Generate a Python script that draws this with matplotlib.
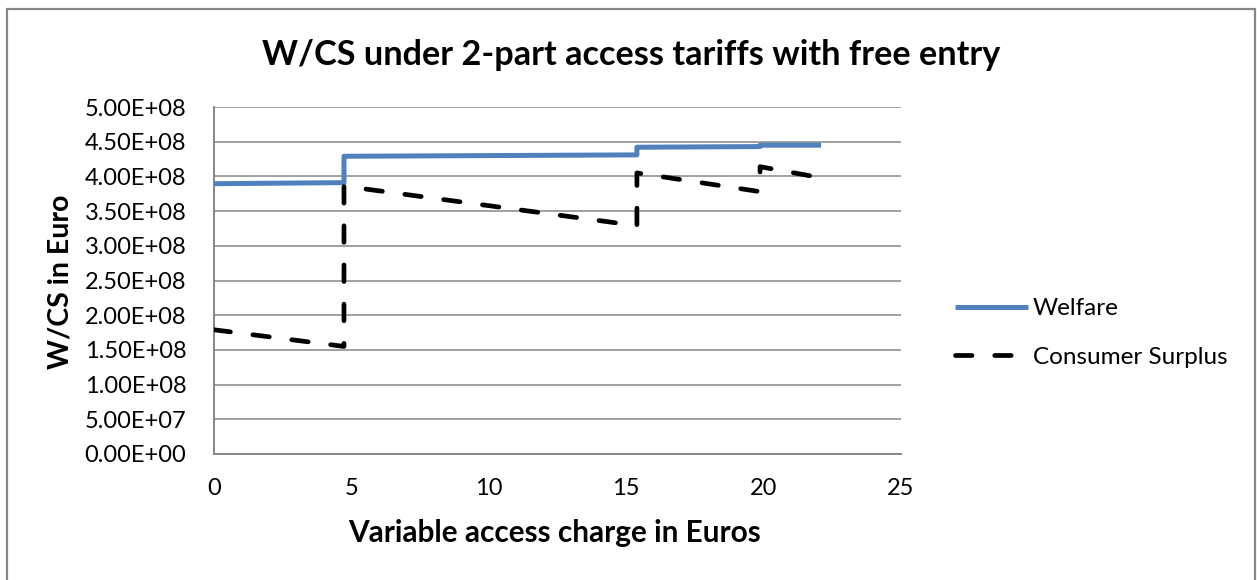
import matplotlib.pyplot as plt
from matplotlib.patches import Rectangle
from matplotlib.ticker import FuncFormatter, MultipleLocator

plt.rcParams['font.family'] = ['Lato', 'DejaVu Sans']

# Variable access charge (Euro) at each breakpoint of the step curves
access_charge = [0.0, 4.73, 4.73, 15.39, 15.39, 19.87, 19.87, 22.09]
welfare = [3.895e8, 3.91e8, 4.29e8, 4.31e8, 4.42e8, 4.43e8, 4.45e8, 4.45e8]
consumer_surplus = [1.79e8, 1.55e8, 3.86e8, 3.29e8, 4.05e8, 3.78e8, 4.14e8, 3.98e8]

GRID = "#868686"
BLUE = "#4F81BD"

fig = plt.figure(figsize=(12.57, 5.8), dpi=100)
ax = fig.add_axes([214 / 1257, 126 / 580, 687 / 1257, 347 / 580])

# chart border (open at the bottom)
fig.patches.append(Rectangle((7 / 1257, -0.05), 1248 / 1257, 1.05 - 9 / 580,
                             transform=fig.transFigure, fill=False,
                             edgecolor=GRID, linewidth=1.6, clip_on=False))

ax.plot(access_charge, welfare, color=BLUE, linewidth=3.6,
        solid_capstyle="butt", label="Welfare", zorder=3)
ax.plot(access_charge, consumer_surplus, color="black", linewidth=3.4,
        dashes=(3.5, 4.8), dash_capstyle="round", label="Consumer Surplus",
        zorder=3)

ax.set_xlim(0, 25)
ax.set_ylim(0, 5e8)
ax.xaxis.set_major_locator(MultipleLocator(5))
ax.yaxis.set_major_locator(MultipleLocator(5e7))
ax.yaxis.set_major_formatter(FuncFormatter(lambda v, _: f"{v:.2E}"))
ax.grid(axis="y", color=GRID, linewidth=1.1)
ax.set_axisbelow(True)
for side in ("top", "right"):
    ax.spines[side].set_visible(False)
for side in ("left", "bottom"):
    ax.spines[side].set_color(GRID)
    ax.spines[side].set_linewidth(1.4)
ax.tick_params(axis="both", length=0, labelsize=17)
ax.tick_params(axis="y", pad=20)
ax.tick_params(axis="x", pad=17)

fig.text(631 / 1257, 1 - 55 / 580, "W/CS under 2-part access tariffs with free entry",
         ha="center", va="center", fontsize=24.7, fontweight="bold")
fig.text(555 / 1257, 1 - 533 / 580, "Variable access charge in Euros",
         ha="center", va="center", fontsize=21.4, fontweight="bold")
fig.text(61 / 1257, 1 - 282 / 580, "W/CS in Euro", rotation=90,
         ha="center", va="center", fontsize=20.5, fontweight="bold")

fig.legend(loc="center left", bbox_to_anchor=(933 / 1257, 1 - 333 / 580),
           frameon=False, fontsize=17.5, handlelength=3.0, handletextpad=0.2,
           labelspacing=1.15)

fig.savefig("out.png", dpi=100)
